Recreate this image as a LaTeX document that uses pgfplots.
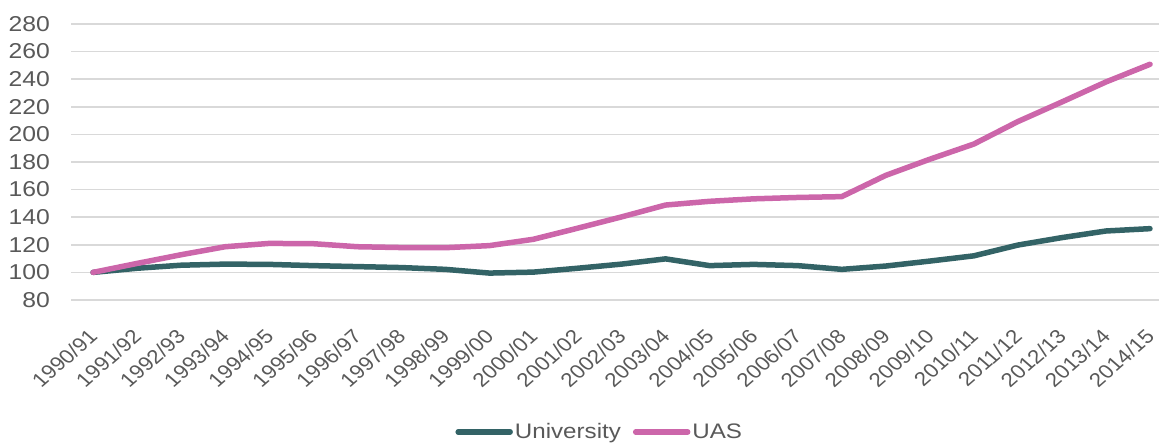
\documentclass[border=0pt]{standalone}
\usepackage{fontspec}
\setmainfont[FakeStretch=1.15]{Liberation Sans}
\newfontfamily\plainfont{Liberation Sans}
\usepackage{graphicx}
\usepackage{pgfplots}
\pgfplotsset{compat=1.18}

\definecolor{uni}{HTML}{336366}
\definecolor{uas}{HTML}{CC66AA}
\definecolor{gridgrey}{HTML}{D9D9D9}
\definecolor{txt}{HTML}{595959}

% rotated label, then stretched sideways like the reference
\newcommand\lbl[1]{\scalebox{1.15}[1]{\rotatebox{45}{\plainfont\fontsize{19.5}{23}\selectfont #1}}}

\begin{document}
\begin{tikzpicture}
\path[use as bounding box] (0,0) rectangle (1159pt,443pt);
\begin{axis}[
    at={(71pt,143pt)}, anchor=south west,
    scale only axis,
    width=1088pt, height=276pt,
    xmin=-0.5, xmax=24.205,
    ymin=80, ymax=280,
    ytick={80,100,...,280},
    xtick={0,...,24},
    xticklabels={\lbl{1990/91},\lbl{1991/92},\lbl{1992/93},\lbl{1993/94},\lbl{1994/95},\lbl{1995/96},\lbl{1996/97},\lbl{1997/98},\lbl{1998/99},\lbl{1999/00},\lbl{2000/01},\lbl{2001/02},\lbl{2002/03},\lbl{2003/04},\lbl{2004/05},\lbl{2005/06},\lbl{2006/07},\lbl{2007/08},\lbl{2008/09},\lbl{2009/10},\lbl{2010/11},\lbl{2011/12},\lbl{2012/13},\lbl{2013/14},\lbl{2014/15}},
    axis line style={draw=none},
    major tick length=0pt,
    ymajorgrids,
    grid style={gridgrey, line width=1.5pt},
    /pgf/number format/assume math mode=true,
    tick label style={font=\fontsize{21.5}{26}\selectfont, text=txt},
    yticklabel style={anchor=east, inner sep=0pt, xshift=-21pt},
    xticklabel style={anchor=north east, inner sep=0pt, xshift=6pt, yshift=-28pt},
    legend style={at={(0.486,-0.478)}, anchor=center, draw=none, fill=none,
        font=\fontsize{21}{25}\selectfont, text=txt,
        /tikz/every even column/.append style={column sep=10pt},
        inner sep=0pt},
    legend columns=2,
    legend image code/.code={\draw[#1, line cap=round] (0pt,0pt) -- (52pt,0pt);},
    every axis plot/.append style={line width=5.5pt, line join=round, line cap=round},
]
\addplot[uni] coordinates {
(0,100) (1,103) (2,105.2) (3,106) (4,105.8) (5,104.9) (6,104.2) (7,103.5) (8,102.2) (9,99.5)
(10,100.2) (11,103) (12,106) (13,109.8) (14,104.9) (15,105.8) (16,104.9) (17,102.2) (18,104.6) (19,108.2)
(20,112) (21,119.8) (22,125.2) (23,130) (24,131.7)
};
\addlegendentry{University}
\addplot[uas] coordinates {
(0,100) (1,106.5) (2,112.8) (3,118.6) (4,121) (5,120.8) (6,118.6) (7,118) (8,117.9) (9,119.4)
(10,124) (11,132) (12,140.2) (13,148.8) (14,151.5) (15,153.3) (16,154.3) (17,154.9) (18,170.3) (19,182)
(20,193) (21,209.3) (22,223.5) (23,238) (24,250.8)
};
\addlegendentry{UAS}
\end{axis}
\end{tikzpicture}
\end{document}
